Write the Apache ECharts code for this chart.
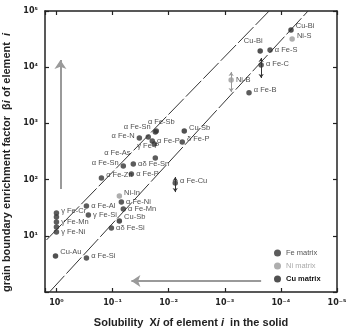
<!DOCTYPE html>
<html>
<head>
<meta charset="utf-8">
<script src="https://cdn.jsdelivr.net/npm/echarts@6/dist/echarts.min.js"></script>
<style>
html, body { margin: 0; padding: 0; background: #fff; }
#chart { width: 346px; height: 330px; }
</style>
</head>
<body>
<div id="chart"></div>
<script>
// tick labels (decades)
const xTickLabels = { '0': '10⁰', '-1': '10⁻¹', '-2': '10⁻²', '-3': '10⁻³', '-4': '10⁻⁴', '-5': '10⁻⁵' }
const yTickLabels = { '1': '10¹', '2': '10²', '3': '10³', '4': '10⁴', '5': '10⁵' }

// Fe matrix: solubility X, enrichment factor beta
const feNames = ['α Fe-S', 'α Fe-C', 'α Fe-B', 'α Fe-Sb', 'α Fe-Sn', 'α Fe-N', 'γ Fe-P', 'α Fe-P', '', 'δ Fe-P',
  'α Fe-As', 'α Fe-Sn', 'αδ Fe-Sn', 'α Fe-Zn', 'α Fe-P', 'α Fe-Cu', 'α Fe-Ni', 'α Fe-Mn', 'αδ Fe-Si', 'α Fe-Al',
  'γ Fe-Si', 'γ Fe-Cr', '', 'γ Fe-Mn', '', 'γ Fe-Ni', 'α Fe-Si']
const feX = [1.56e-4, 2.25e-4, 3.7e-4, 0.0166, 0.0173, 0.0333, 0.0231, 0.0196, 0.018, 0.00573,
  0.0173, 0.0643, 0.0427, 0.158, 0.0462, 0.00764, 0.0697, 0.0643, 0.105, 0.292,
  0.27, 1.0, 1.0, 1.0, 1.0, 1.0, 0.292]
const feBeta = [20200, 10900, 3500, 730, 700, 550, 573, 486, 430, 467,
  242, 175, 190, 107, 126, 87, 40, 30, 13.8, 34,
  23.4, 25.5, 21.6, 17.6, 14.3, 11.7, 4.03]

// Ni matrix
const niNames = ['Ni-S', 'Ni-B', 'Ni-In']
const niX = [6.3e-5, 7.7e-4, 0.0757]
const niBeta = [31800, 5900, 51]

// Cu matrix
const cuNames = ['Cu-Bi', 'Cu-Bi', 'Cu-Sb', 'Cu-Sb', 'Cu-Au']
const cuX = [6.6e-5, 2.34e-4, 0.00527, 0.0757, 1.04]
const cuBeta = [45900, 19400, 732, 18.3, 4.37]

// scatter ranges (double arrows)
const rangeX = [2.25e-4, 7.7e-4, 0.00764]
const rangeLow = [6430, 3620, 60]
const rangeHigh = [14580, 8220, 111]

// guide lines (end points)
const upperLineX = [1.507, 1.62e-4]
const upperLineBeta = [8.42, 1e5]
const lowerLineX = [1.33, 3.28e-5]
const lowerLineBeta = [1, 1e5]

// big trend arrows
const vArrowX = [0.85, 0.85]
const vArrowBeta = [68, 13400]
const hArrowX = [2.25e-4, 0.0462]
const hArrowBeta = [1.57, 1.57]

// label placement (layout only)
const feLabelPos = ['right', 'right', 'right', 'top', 'left', 'left', 'bottom', 'right', 'right', 'right',
  'left', 'left', 'right', 'right', 'right', 'right', 'right', 'right', 'right', 'right',
  'right', 'right', 'right', 'right', 'right', 'right', 'right']
const feLabelOff = [[0, 0], [0, -1], [0, -3], [5, 0], [0, -5], [0, -2], [0, 0], [0, 0], [0, 0], [0, -3],
  [-20, -5], [0, -3], [0, 0], [0, -3], [0, 0], [0, -2], [0, 0], [0, 0], [0, 0], [0, 0],
  [0, 0], [0, -2], [0, 0], [0, 0], [0, 0], [0, 0], [0, -2]]
const niLabelOff = [[0, -3], [0, 0], [0, -3]]
const cuLabelPos = ['right', 'top', 'right', 'right', 'right']
const cuLabelOff = [[0, -4], [-7, -1], [0, -3], [0, -4], [0, -4]]

const FONT = 'Liberation Sans'

const toItems = (names, xs, ys, pos, offs) => names.map((n, i) => ({
  name: n,
  value: [xs[i], ys[i]],
  label: { position: pos ? pos[i] : 'right', offset: offs[i] }
}))

const decade = (v) => {
  const e = Math.log10(v)
  const r = Math.round(e)
  return Math.abs(e - r) < 0.01 ? String(r) : null
}

const axisCommon = {
  axisLine: { show: true, lineStyle: { color: '#222', width: 1.5 } },
  axisTick: { show: true, inside: true, length: 4, lineStyle: { color: '#222', width: 1.2 } },
  splitLine: { show: false },
  minorTick: { show: false }
}

const nameRich = {
  t: { fontFamily: FONT, fontSize: 11, fontWeight: 'bold', color: '#222' },
  it: { fontFamily: FONT, fontSize: 11, fontWeight: 'bold', fontStyle: 'italic', color: '#222' }
}

const labelStyle = {
  show: true,
  formatter: '{b}',
  fontFamily: FONT,
  fontSize: 7.5,
  color: '#222',
  distance: 2
}

const option = {
  animation: false,
  grid: { left: 45, right: 9, top: 11, bottom: 38, outerBoundsMode: 'none', containLabel: false },
  xAxis: [
    {
      type: 'log', min: 1e-5, max: 1.6, inverse: true, position: 'bottom',
      ...axisCommon,
      axisLabel: {
        fontFamily: 'DejaVu Sans', fontSize: 8, fontWeight: 'bold', color: '#222', margin: 7,
        formatter: (v) => { const d = decade(v); return d !== null && xTickLabels[d] ? xTickLabels[d] : '' }
      },
      name: '{t|Solubility  X}{it|i}{t| of element }{it|i}{t|  in the solid}',
      nameLocation: 'middle', nameGap: 25,
      nameTextStyle: { rich: nameRich }
    },
    {
      type: 'log', min: 1e-5, max: 1.6, inverse: true, position: 'top',
      ...axisCommon,
      axisLabel: { show: false }
    }
  ],
  yAxis: [
    {
      type: 'log', min: 1, max: 1e5, position: 'left',
      ...axisCommon,
      axisLabel: {
        fontFamily: 'DejaVu Sans', fontSize: 8, fontWeight: 'bold', color: '#222', margin: 7,
        formatter: (v) => { const d = decade(v); return d !== null && yTickLabels[d] ? yTickLabels[d] : '' }
      },
      name: '{t|grain boundary enrichment factor  β}{it|i}{t| of element  }{it|i}',
      nameLocation: 'middle', nameGap: 30,
      nameTextStyle: { rich: nameRich, padding: [0, 22, 0, 0] }
    },
    {
      type: 'log', min: 1, max: 1e5, position: 'right',
      ...axisCommon,
      axisLabel: { show: false }
    }
  ],
  legend: {
    orient: 'vertical', left: 274, top: 249, itemWidth: 7, itemHeight: 7, itemGap: 5, padding: 0,
    icon: 'circle',
    textStyle: { fontFamily: FONT, fontSize: 7.5 },
    data: [
      { name: 'Fe matrix', textStyle: { color: '#555' } },
      { name: 'Ni matrix', textStyle: { color: '#aaa' } },
      { name: 'Cu matrix', textStyle: { color: '#111', fontWeight: 'bold' } }
    ]
  },
  series: [
    {
      type: 'lines', coordinateSystem: 'cartesian2d', silent: true, z: 1,
      lineStyle: { color: '#333', width: 1, type: [22, 3], opacity: 1 },
      symbol: 'none',
      data: [
        { coords: [[upperLineX[0], upperLineBeta[0]], [upperLineX[1], upperLineBeta[1]]] },
        { coords: [[lowerLineX[0], lowerLineBeta[0]], [lowerLineX[1], lowerLineBeta[1]]] }
      ]
    },
    {
      type: 'lines', coordinateSystem: 'cartesian2d', silent: true, z: 1,
      lineStyle: { color: '#9a9a9a', width: 2, opacity: 1 },
      symbol: ['none', 'arrow'], symbolSize: 9,
      data: [
        { coords: [[vArrowX[0], vArrowBeta[0]], [vArrowX[1], vArrowBeta[1]]] },
        { coords: [[hArrowX[0], hArrowBeta[0]], [hArrowX[1], hArrowBeta[1]]] }
      ]
    },
    {
      type: 'lines', coordinateSystem: 'cartesian2d', silent: true, z: 2,
      lineStyle: { width: 1, opacity: 1 },
      symbol: ['arrow', 'arrow'], symbolSize: 4,
      data: rangeX.map((x, i) => ({
        coords: [[x, rangeLow[i]], [x, rangeHigh[i]]],
        lineStyle: { color: i === 1 ? '#999' : '#333' }
      }))
    },
    {
      name: 'Fe matrix', type: 'scatter', symbolSize: 5.5, z: 3,
      itemStyle: { color: '#333' },
      label: labelStyle,
      data: toItems(feNames, feX, feBeta, feLabelPos, feLabelOff)
    },
    {
      name: 'Ni matrix', type: 'scatter', symbolSize: 5.5, z: 3,
      itemStyle: { color: '#9a9a9a' },
      label: labelStyle,
      data: toItems(niNames, niX, niBeta, null, niLabelOff)
    },
    {
      name: 'Cu matrix', type: 'scatter', symbolSize: 5.5, z: 3,
      itemStyle: { color: '#262626' },
      label: labelStyle,
      data: toItems(cuNames, cuX, cuBeta, cuLabelPos, cuLabelOff)
    }
  ]
}

const chart = echarts.init(document.getElementById('chart'))
chart.setOption(option)
</script>
</body>
</html>
